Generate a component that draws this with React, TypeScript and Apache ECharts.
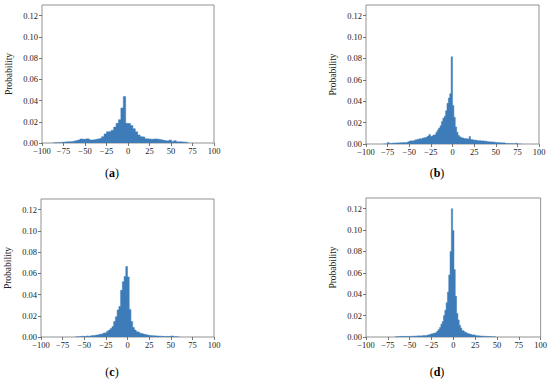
import React, { useEffect, useRef } from "react";
import * as echarts from "echarts";

// ---- data (probability per bin) ----
const xTicks = [-100, -75, -50, -25, 0, 25, 50, 75, 100];
const yTicks = [0, 0.02, 0.04, 0.06, 0.08, 0.1, 0.12];
const panelLabels = ["a", "b", "c", "d"];

const startA = -86.7;
const widthA = 2.8;
const valuesA = [
  0.0003, 0.0005, 0.0005, 0.0008, 0.001, 0.0012, 0.0012, 0.0015, 0.002, 0.0025,
  0.003, 0.0038, 0.0035, 0.004, 0.0038, 0.0028, 0.003, 0.0035, 0.004, 0.0045,
  0.006, 0.0085, 0.0105, 0.011, 0.012, 0.015, 0.0185, 0.022, 0.033, 0.0437,
  0.0185, 0.0183, 0.0165, 0.0135, 0.0105, 0.0075, 0.006, 0.0055, 0.004, 0.0038,
  0.0035, 0.0038, 0.0038, 0.0035, 0.003, 0.0025, 0.0022, 0.002, 0.0028, 0.0015,
  0.0022, 0.0012, 0.0012, 0.001, 0.0008, 0.0004,
];

const startB = -80;
const widthB = 1.6;
const valuesB = [
  0, 0, 0.0003, 0.0015, 0.0008, 0.0005, 0.001, 0.0008, 0.001, 0.001,
  0.0012, 0.001, 0.0013, 0.0012, 0.0015, 0.0012, 0.0015, 0.002, 0.0025, 0.003,
  0.0028, 0.0032, 0.003, 0.004, 0.0045, 0.0042, 0.005, 0.0045, 0.0055, 0.006,
  0.0058, 0.0065, 0.0075, 0.009, 0.0072, 0.0078, 0.0085, 0.009, 0.011, 0.013,
  0.015, 0.017, 0.021, 0.024, 0.026, 0.031, 0.038, 0.043, 0.047, 0.0815,
  0.036, 0.025, 0.016, 0.011, 0.008, 0.0068, 0.0058, 0.0055, 0.005, 0.0052,
  0.0048, 0.0045, 0.007, 0.0042, 0.004, 0.0035, 0.0038, 0.0033, 0.003, 0.0032,
  0.0028, 0.003, 0.0026, 0.0028, 0.0024, 0.002, 0.0022, 0.0018, 0.002, 0.0017,
  0.0016, 0.0015, 0.0013, 0.0012, 0.0013, 0.001, 0.0012, 0.001, 0.0005, 0.0004,
  0.0005, 0.0003, 0.0004, 0.0003, 0.0003, 0.0008, 0.0003, 0, 0, 0,
];

const startC = -60;
const widthC = 2;
const valuesC = [
  0.0002, 0.0003, 0.0005, 0.0008, 0.0005, 0.0008, 0.001, 0.0007, 0.0012, 0.0013,
  0.0015, 0.0018, 0.002, 0.0025, 0.0028, 0.003, 0.0038, 0.0042, 0.0055, 0.0065,
  0.008, 0.0098, 0.0145, 0.019, 0.0255, 0.0287, 0.044, 0.052, 0.057, 0.0665,
  0.0565, 0.026, 0.0145, 0.009, 0.0065, 0.005, 0.0045, 0.0035, 0.003, 0.0025,
  0.0022, 0.0018, 0.0015, 0.0014, 0.0012, 0.0012, 0.001, 0.0009, 0.0008, 0.0007,
  0.0006, 0.0005, 0.0006, 0.0004, 0.0008, 0.001, 0.0005, 0.0003, 0.0002, 0.0001,
];

const startD = -66.75;
const widthD = 1.5;
const valuesD = [
  0.0003, 0.0005, 0.0003, 0.0006, 0.0004, 0.0005, 0.0007, 0.0004, 0.0006, 0.0005,
  0.0007, 0.0005, 0.0008, 0.0006, 0.0009, 0.0008, 0.001, 0.0012, 0.0009, 0.0011,
  0.0012, 0.0014, 0.0013, 0.0015, 0.0018, 0.002, 0.0025, 0.003, 0.0028, 0.0035,
  0.004, 0.0045, 0.0055, 0.007, 0.009, 0.012, 0.0145, 0.02, 0.025, 0.032,
  0.042, 0.058, 0.08, 0.12, 0.0995, 0.063, 0.038, 0.022, 0.016, 0.011,
  0.0085, 0.006, 0.0055, 0.0045, 0.004, 0.0032, 0.0028, 0.0025, 0.002, 0.0018,
  0.0022, 0.0015, 0.0012, 0.0012, 0.001, 0.0009, 0.0008, 0.0007, 0.0007, 0.0005,
  0.0006, 0.0004, 0.0005, 0.0003, 0.0003, 0.0002, 0.0002,
];

const BAR = "#3d7cb8";
const FONT = "Liberation Serif";

// Step outline of a histogram: one point per left bin edge, plus the final right edge at zero.
function toSteps(start: number, width: number, values: number[]) {
  const pts = values.map((v, i) => [start + i * width, v]);
  pts.push([start + values.length * width, 0]);
  return pts;
}

const panels = [
  { steps: toSteps(startA, widthA, valuesA), grid: { left: 42, top: 5, width: 172, height: 138 }, label: [112, 173] },
  { steps: toSteps(startB, widthB, valuesB), grid: { left: 366, top: 5, width: 173, height: 139 }, label: [437, 173] },
  { steps: toSteps(startC, widthC, valuesC), grid: { left: 41, top: 199, width: 173, height: 138 }, label: [112, 372] },
  { steps: toSteps(startD, widthD, valuesD), grid: { left: 366, top: 198, width: 175, height: 139 }, label: [437, 372] },
];

export default function App() {
  const ref = useRef<HTMLDivElement>(null);
  useEffect(() => {
    if (!ref.current) return;
    const chart = echarts.init(ref.current, undefined, { renderer: "svg" });
    const fmtX = (v: number) => (v < 0 ? "\u2212" + Math.abs(v) : String(v));
    const option: any = {
      animation: false,
      backgroundColor: "#ffffff",
      textStyle: { fontFamily: FONT },
      grid: panels.map((p) => ({
        ...p.grid,
        show: true,
        borderColor: "#777",
        borderWidth: 0.8,
        backgroundColor: "transparent",
        containLabel: false,
      })),
      xAxis: panels.map((_, i) => ({
        type: "value",
        gridIndex: i,
        position: "bottom",
        min: -100,
        max: 100,
        interval: 25,
        splitLine: { show: false },
        axisLine: { show: false, onZero: false },
        axisTick: { show: true, inside: false, length: 3, lineStyle: { color: "#555", width: 0.8 }, customValues: xTicks },
        axisLabel: {
          customValues: xTicks,
          formatter: fmtX,
          fontFamily: FONT,
          fontSize: 8.5,
          color: "#222",
          margin: 3,
        },
      })),
      yAxis: panels.map((_, i) => ({
        type: "value",
        gridIndex: i,
        position: "left",
        min: 0,
        max: 0.13,
        splitLine: { show: false },
        axisLine: { show: false, onZero: false },
        name: "Probability",
        nameLocation: "middle",
        nameRotate: 90,
        nameGap: 28,
        nameTextStyle: { fontFamily: FONT, fontSize: 9.5, color: "#222" },
        axisTick: { show: true, inside: false, length: 3, lineStyle: { color: "#555", width: 0.8 }, customValues: yTicks },
        axisLabel: {
          customValues: yTicks,
          formatter: (v: number) => v.toFixed(2),
          fontFamily: FONT,
          fontSize: 8.5,
          color: "#222",
          margin: 4,
        },
      })),
      series: panels.map((p, i) => ({
        type: "line",
        xAxisIndex: i,
        yAxisIndex: i,
        step: "end",
        data: p.steps,
        symbol: "none",
        silent: true,
        lineStyle: { color: BAR, width: 0.5 },
        areaStyle: { color: BAR, opacity: 1, origin: "start" },
      })),
      graphic: panels.map((p, i) => ({
        type: "text",
        x: p.label[0],
        y: p.label[1],
        style: {
          text: "{n|(}{b|" + panelLabels[i] + "}{n|)}",
          align: "center",
          verticalAlign: "middle",
          rich: {
            n: { fontFamily: FONT, fontSize: 12, fill: "#000" },
            b: { fontFamily: FONT, fontSize: 12, fontWeight: "bold", fill: "#000" },
          },
        },
      })),
    };
    chart.setOption(option);
    return () => chart.dispose();
  }, []);
  return (
    <div
      ref={ref}
      style={{ position: "absolute", left: 0, top: 0, width: 550, height: 382 }}
    />
  );
}
